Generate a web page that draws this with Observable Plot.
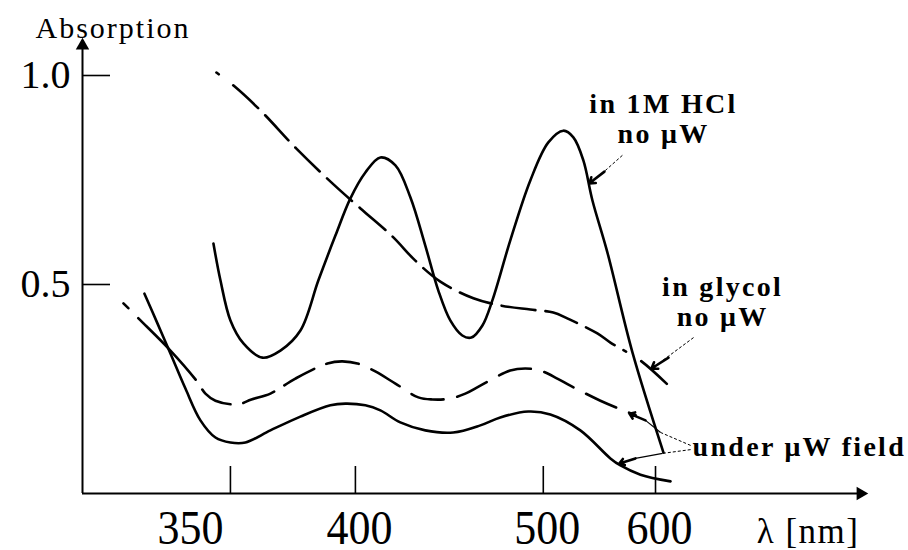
<!DOCTYPE html>
<html>
<head>
<meta charset="utf-8">
<script src="https://cdn.jsdelivr.net/npm/d3@7"></script>
<script src="https://cdn.jsdelivr.net/npm/@observablehq/plot@0.6"></script>
<style>
  body { margin: 0; background: #fff; }
</style>
</head>
<body>
<div id="chart"></div>
<script>
// ---- axis ticks / labels ----
const xTicks = [350, 400, 500, 600];
const xTickLabels = ["350", "400", "500", "600"];
const yTicks = [0.5, 1.0];
const yTickLabels = ["0.5", "1.0"];

// ---- series: in 1M HCl, no µW (solid, two peaks) ----
const hclNm  = [343.2, 346, 350, 355.2, 362.8, 370, 378, 385.2, 392, 398, 405.3, 413.3, 421.3, 429.3, 437.2, 444.1, 450.5, 456.9, 461.7, 467.6, 472.9, 482.4, 493.1, 504.5, 517.9, 526.8, 535.7, 543.8, 557.1, 579.5, 607.1];
const hclAbs = [0.598, 0.510, 0.414, 0.359, 0.325, 0.342, 0.390, 0.510, 0.617, 0.706, 0.768, 0.804, 0.785, 0.708, 0.593, 0.486, 0.414, 0.378, 0.373, 0.402, 0.462, 0.605, 0.749, 0.840, 0.868, 0.852, 0.797, 0.701, 0.577, 0.337, 0.098];

// ---- series: in glycol, no µW (dashed, upper) ----
const glyNm  = [344.4, 351.6, 362.4, 376.4, 390.8, 402.7, 419.7, 431.9, 445.2, 462.8, 477.1, 493.1, 508.9, 521.4, 548.2, 559.8, 586.6, 615.2];
const glyAbs = [1.007, 0.974, 0.914, 0.825, 0.742, 0.682, 0.615, 0.557, 0.507, 0.467, 0.450, 0.440, 0.433, 0.419, 0.383, 0.361, 0.318, 0.249];

// ---- series: under µW field (dashed, lower) ----
const mwDashNm  = [307.2, 313.2, 326, 336.4, 340, 344, 352.8, 358.4, 366, 376, 388.8, 394.8, 402.7, 410.6, 421.3, 433.5, 441, 450.5, 458.5, 466.5, 482.4, 490.4, 498.4, 512.5, 524.1, 550.9, 575.9, 588.4];
const mwDashAbs = [0.455, 0.419, 0.342, 0.270, 0.239, 0.222, 0.213, 0.225, 0.239, 0.275, 0.311, 0.316, 0.309, 0.292, 0.263, 0.230, 0.225, 0.227, 0.239, 0.258, 0.294, 0.299, 0.294, 0.275, 0.258, 0.222, 0.194, 0.181];

// ---- series: under µW field (solid, lower) ----
const mwSolidNm  = [315.6, 320.8, 326, 332, 338, 344, 350, 356, 366, 378, 390, 396, 405.3, 413.3, 423.9, 437.2, 452.1, 466.5, 477.1, 492, 506.3, 533, 559.8, 568.8, 586.6, 613.4];
const mwSolidAbs = [0.478, 0.407, 0.335, 0.251, 0.175, 0.134, 0.122, 0.122, 0.151, 0.184, 0.211, 0.215, 0.211, 0.199, 0.170, 0.151, 0.146, 0.163, 0.182, 0.196, 0.189, 0.151, 0.084, 0.067, 0.045, 0.029];

// ---- annotations ----
const labelTexts = ["in 1M HCl\nno μW", "in glycol\nno μW"];
const labelNm    = [607.1, 659.8];
const labelAbs   = [0.897, 0.459];
const fieldText  = ["under μW field"];
const fieldNm    = [633.0];
const fieldAbs   = [0.110];

// pointer shafts (dashed), connectors (thin solid), heads
const shaftX1 = [570.5, 633.9, 631.3, 631.3];
const shaftY1 = [0.809, 0.373, 0.115, 0.105];
const shaftX2 = [549.1, 606.3, 604.5, 606.3];
const shaftY2 = [0.758, 0.318, 0.146, 0.096];
const connX1 = [604.5, 606.3];
const connY1 = [0.146, 0.096];
const connX2 = [591.1, 582.1];
const connY2 = [0.175, 0.084];
const headX1 = [554.5, 611.6, 591.1, 582.1];
const headY1 = [0.770, 0.325, 0.175, 0.084];
const headX2 = [541.1, 596.4, 576.8, 567.9];
const headY2 = [0.742, 0.299, 0.191, 0.072];

// the hand-drawn wavelength axis is not linear: piecewise placement of the ticks
const xWarp = d3.scaleLinear().domain(xTicks).range([0, 0.294, 0.736, 1]);
const xAxisExtent = [-0.348, 1.494];

const rows = (xs, ys) => xs.map((x, i) => ({x, y: ys[i]}));
const segs = (x1, y1, x2, y2) => x1.map((_, i) => ({x1: x1[i], y1: y1[i], x2: x2[i], y2: y2[i]}));
const W = k => d => xWarp(d[k]);

const fmtX = d => xTickLabels[xTicks.findIndex(t => Math.abs(xWarp(t) - d) < 1e-9)];
const fmtY = d => yTickLabels[yTicks.indexOf(d)];

const chart = Plot.plot({
  width: 908,
  height: 550,
  marginLeft: 82,
  marginRight: 43,
  marginTop: 40,
  marginBottom: 57,
  style: {fontFamily: "'Liberation Serif', 'Times New Roman', serif", background: "#fff", color: "#000"},
  x: {type: "linear", domain: xAxisExtent},
  y: {domain: [0, 1], range: [493, 75]},
  marks: [
    // axis lines
    Plot.ruleY([0], {strokeWidth: 2}),
    Plot.ruleX([xAxisExtent[0]], {strokeWidth: 2}),
    Plot.axisY({ticks: yTicks, tickFormat: fmtY, tickSize: 0, tickPadding: 12, fontSize: 40, label: null}),
    Plot.axisX({ticks: xTicks.slice(1).map(xWarp), tickFormat: fmtX, tickSize: 0, tickPadding: 16, fontSize: 44, label: null, dx: 4}),
    Plot.axisX({ticks: xTicks.slice(0, 1).map(xWarp), tickFormat: fmtX, tickSize: 0, tickPadding: 16, fontSize: 44, label: null, dx: -40}),
    // inward tick marks
    Plot.tickX(xTicks, {x: d => xWarp(d), insetTop: 426, strokeWidth: 1.6}),
    Plot.tickY(yTicks, {y: d => d, insetRight: 755, strokeWidth: 1.6}),
    // axis arrowheads
    Plot.dot([0], {frameAnchor: "top-left", symbol: "triangle", r: 5, fill: "#000", dy: 5}),
    Plot.dot([0], {frameAnchor: "bottom-right", symbol: "triangle", r: 5, fill: "#000", rotate: 90, dx: -5}),
    // titles
    Plot.text(["Absorption"], {frameAnchor: "top-left", textAnchor: "start", lineAnchor: "middle", dx: -47, dy: -12, fontSize: 30}),
    Plot.text(["λ [nm]"], {frameAnchor: "bottom-right", textAnchor: "end", lineAnchor: "middle", dx: -6, dy: 38, fontSize: 35}),
    // curves
    Plot.line(rows(hclNm, hclAbs), {x: W("x"), y: "y", curve: "catmull-rom", stroke: "#000", strokeWidth: 2.6}),
    Plot.line(rows(glyNm, glyAbs), {x: W("x"), y: "y", curve: "catmull-rom", stroke: "#000", strokeWidth: 2.6, strokeDasharray: "3,18,34,10,34,10,34,10,34,10,34,10,34,10,34,10,34,10,34,10,34,10,34,10"}),
    Plot.line(rows(mwDashNm, mwDashAbs), {x: W("x"), y: "y", curve: "catmull-rom", stroke: "#000", strokeWidth: 2.6, strokeDasharray: "7,14,84,12,33,13,33,12,34,13,33,14,33,14,33,14,33,14,33,14,33,14,33,14"}),
    Plot.line(rows(mwSolidNm, mwSolidAbs), {x: W("x"), y: "y", curve: "catmull-rom", stroke: "#000", strokeWidth: 2.6}),
    // pointers
    Plot.link(segs(shaftX1, shaftY1, shaftX2, shaftY2), {x1: W("x1"), y1: "y1", x2: W("x2"), y2: "y2", stroke: "#000", strokeWidth: 1, strokeDasharray: "3,2"}),
    Plot.link(segs(connX1, connY1, connX2, connY2), {x1: W("x1"), y1: "y1", x2: W("x2"), y2: "y2", stroke: "#000", strokeWidth: 1.2}),
    Plot.arrow(segs(headX1, headY1, headX2, headY2), {x1: W("x1"), y1: "y1", x2: W("x2"), y2: "y2", stroke: "#000", strokeWidth: 2.6, headLength: 11, headAngle: 70}),
    // annotation texts
    Plot.text(labelTexts.map((t, i) => ({t, x: labelNm[i], y: labelAbs[i]})), {x: W("x"), y: "y", text: "t", fontSize: 28, fontWeight: "bold", lineHeight: 1.07}),
    Plot.text(fieldText.map((t, i) => ({t, x: fieldNm[i], y: fieldAbs[i]})), {x: W("x"), y: "y", text: "t", textAnchor: "start", fontSize: 28, fontWeight: "bold"})
  ]
});

document.getElementById("chart").appendChild(chart);
// slightly taller x tick digits, as in the reference
chart.querySelectorAll('g[aria-label="x-axis tick label"] text').forEach(el => {
  const t = el.getAttribute("transform") || "";
  el.setAttribute("transform", t + " scale(1,1.1)");
});
// wide letter spacing of the typewritten labels
chart.querySelectorAll("text").forEach(el => {
  const s = el.textContent;
  if (s.includes("μW")) el.style.letterSpacing = "2.3px";
  else if (s === "Absorption") el.style.letterSpacing = "2px";
  else if (s.startsWith("λ")) el.style.letterSpacing = "1.5px";
});
</script>
</body>
</html>
